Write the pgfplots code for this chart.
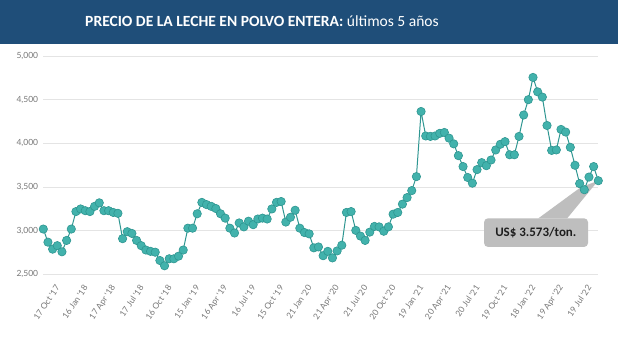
\documentclass[border=0pt]{standalone}
\usepackage{fontspec}
\setmainfont{Carlito}
\newfontfamily\lato{Lato}
\usepackage{pgfplots}
\pgfplotsset{compat=1.18}
\definecolor{titleblue}{RGB}{31,78,121}
\definecolor{teal1}{RGB}{66,178,172}
\definecolor{teal2}{RGB}{46,150,145}
\definecolor{gridc}{RGB}{228,228,228}
\definecolor{tickc}{RGB}{120,120,120}
\definecolor{callc}{RGB}{190,190,190}
\definecolor{calltext}{RGB}{30,30,30}
\pgfplotstableread{
x y
0 3020
1 2870
2 2790
3 2830
4 2760
5 2890
6 3020
7 3220
8 3250
9 3230
10 3220
11 3280
12 3320
13 3230
14 3230
15 3210
16 3200
17 2910
18 2990
19 2970
20 2890
21 2830
22 2780
23 2765
24 2755
25 2660
26 2600
27 2680
28 2680
29 2710
30 2780
31 3030
32 3030
33 3195
34 3325
35 3300
36 3280
37 3255
38 3195
39 3145
40 3030
41 2975
42 3090
43 3045
44 3110
45 3070
46 3135
47 3145
48 3135
49 3250
50 3325
51 3335
52 3100
53 3155
54 3235
55 3030
56 2980
57 2965
58 2805
59 2815
60 2715
61 2765
62 2690
63 2770
64 2835
65 3210
66 3220
67 3005
68 2940
69 2890
70 2985
71 3050
72 3045
73 2995
74 3045
75 3190
76 3210
77 3305
78 3380
79 3460
80 3620
81 4365
82 4085
83 4080
84 4085
85 4115
86 4125
87 4060
88 3995
89 3860
90 3735
91 3610
92 3545
93 3700
94 3780
95 3745
96 3810
97 3925
98 3990
99 4020
100 3870
101 3870
102 4080
103 4325
104 4500
105 4755
106 4590
107 4530
108 4205
109 3920
110 3925
111 4160
112 4130
113 3955
114 3750
115 3540
116 3470
117 3615
118 3735
119 3573
}\milk
\begin{document}
\begin{tikzpicture}
\useasboundingbox (0bp,0bp) rectangle (618bp,-339bp);
\fill[white] (0bp,0bp) rectangle (618bp,-339bp);
\fill[titleblue] (0bp,0bp) rectangle (618bp,-44bp);
\node[text=white, font=\fontsize{15.6}{18}\selectfont, inner sep=0pt] at (262bp,-21.5bp) {\textbf{PRECIO DE LA LECHE EN POLVO ENTERA:} últimos 5 años};
\begin{axis}[
  at={(43.3bp,-274.5bp)}, anchor=south west,
  scale only axis, width=555bp, height=218.5bp,
  xmin=0, xmax=119, ymin=2500, ymax=5000,
  ytick={2500,3000,...,5000},
  xtick={0,6,...,114},
  xticklabels={17 Oct '17,16 Jan '18,17 Apr '18,17 Jul '18,16 Oct '18,15 Jan '19,16 Apr '19,16 Jul '19,15 Oct '19,21 Jan '20,21 Apr '20,21 Jul '20,20 Oct '20,19 Jan '21,20 Apr '21,20 Jul '21,19 Oct '21,18 Jan '22,19 Apr '22,19 Jul '22},
  ymajorgrids, grid style={draw=gridc, line width=1pt},
  axis line style={draw=none}, major tick length=0pt,
  tick style={draw=none},
  clip=false,
  /pgf/number format/assume math mode=true,
  /pgf/number format/1000 sep={,},
  yticklabel style={font=\lato\fontsize{8.5}{10}\selectfont, text=tickc, anchor=east, inner sep=0pt, xshift=-5bp},
  xticklabel style={font=\lato\fontsize{8.5}{10}\selectfont, text=tickc, xshift=14.5bp, yshift=-11.5bp, rotate=56, anchor=east, inner sep=0pt},
]
\fill[callc] (axis cs:106.1,3141) -- (axis cs:115.3,3501) -- (axis cs:118.9,3570) -- (axis cs:112.3,3141) -- cycle;
\fill[callc, rounded corners=4bp] (axis cs:94.5,2815) rectangle (axis cs:116.8,3143);
\node[font=\bfseries\fontsize{13}{15}\selectfont, text=calltext] at (axis cs:105.6,2979) {US\$ 3.573/ton.};
\addplot[teal2, line width=1pt, mark=*, mark size=4.2bp, mark options={fill=teal1, draw=teal2, line width=0.6pt}] table[x=x,y=y] {\milk};
\end{axis}
\end{tikzpicture}
\end{document}
